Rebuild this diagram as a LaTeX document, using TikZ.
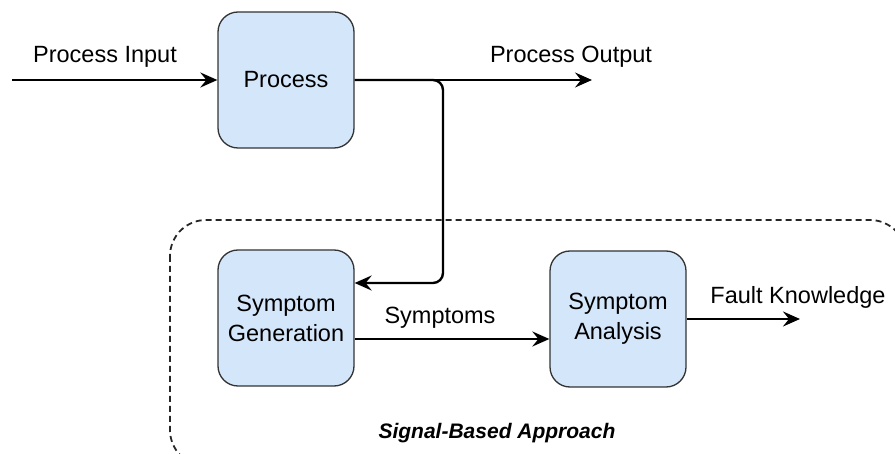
\documentclass[tikz,border=0pt]{standalone}
\usepackage{fontspec}
\setmainfont{Liberation Sans}
\usetikzlibrary{arrows.meta}
\definecolor{blockfill}{HTML}{D4E6FA}
\definecolor{blockline}{HTML}{333333}
\begin{document}
\begin{tikzpicture}[x=1pt,y=-1pt,
  block/.style={draw=blockline, line width=1.3pt, fill=blockfill,
    rounded corners=20pt, minimum width=136pt, minimum height=136pt,
    align=center, inner sep=0pt, font=\fontsize{23.5}{30}\selectfont},
  lbl/.style={inner sep=0pt, font=\fontsize{23.5}{28}\selectfont},
  flow/.style={line width=2.4pt, line join=round,
    -{Stealth[length=17pt,width=15pt,inset=6pt]}},
  region/.style={draw=black!85, line width=1.8pt,
    dash pattern=on 6pt off 4pt, rounded corners=36pt}]
  \useasboundingbox (0,0) rectangle (895,454);

  % dashed frame of the signal-based part
  \draw[region] (170,220) rectangle (906,466);

  % blocks
  \node[block] (proc) at (286,80) {Process};
  \node[block] (gen) at (286,318) {Symptom\\Generation};
  \node[block] (ana) at (618,319) {Symptom\\Analysis};

  % free ends and bends
  \coordinate (in) at (12,80);
  \coordinate (out) at (592,80);
  \coordinate (tap) at (443,80);
  \coordinate (turn) at (443,283);
  \coordinate (fault) at (800,319);
  \path (gen.east) ++(0,21) coordinate (symA);

  % connectors
  \draw[flow] (in) -- (proc.west);
  \draw[flow, line width=2pt] (proc.east) -- (out);
  \draw[flow, rounded corners=10pt] (proc.east) -- (tap) -- (turn) -- (turn -| gen.east);
  \draw[flow] (symA) -- (symA -| ana.west);
  \draw[flow] (ana.east) -- (fault);

  % labels
  \node[lbl] (lin) at (105,57) {Process Input};
  \node[lbl] (lout) at (571,57) {Process Output};
  \node[lbl] (lsym) at (440,318) {Symptoms};
  \node[lbl] (lfault) at (798,297) {Fault Knowledge};
  \node[lbl, font=\fontsize{21}{26}\selectfont\bfseries\itshape] (lregion) at (497,433) {Signal-Based Approach};
\end{tikzpicture}
\end{document}
